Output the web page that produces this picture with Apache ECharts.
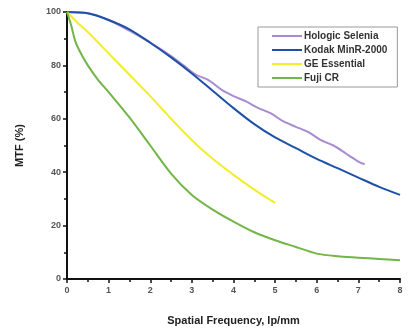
<!DOCTYPE html>
<html><head><meta charset="utf-8">
<script src="https://cdn.jsdelivr.net/npm/echarts@6/dist/echarts.min.js"></script>
<style>html,body{margin:0;padding:0;background:#fff}#c{width:408px;height:333px}</style>
</head><body><div id="c"></div>
<script>
const seriesNames = ['Hologic Selenia', 'Kodak MinR-2000', 'GE Essential', 'Fuji CR'];
const hologicX = [0, 0.5, 1, 1.5, 2, 2.5, 2.8, 3.1, 3.4, 3.7, 4, 4.3, 4.6, 4.9, 5.2, 5.5, 5.8, 6.1, 6.4, 6.7, 7, 7.15];
const hologicY = [100, 99.5, 97, 93, 88.5, 83.5, 80, 76.5, 74.5, 71, 68.5, 66.5, 64, 62, 59, 57, 55, 52, 50, 47, 44, 43];
const kodakX = [0, 0.5, 1, 1.5, 2, 2.5, 3, 3.5, 4, 4.5, 5, 5.5, 6, 6.5, 7, 7.5, 8];
const kodakY = [100, 99.5, 97, 93.5, 88.5, 83, 77, 70.5, 64, 58, 53, 49, 45, 41.5, 38, 34.5, 31.5];
const geX = [0, 0.25, 0.5, 1, 1.5, 2, 2.5, 3, 3.5, 4, 4.5, 5];
const geY = [100, 96, 92.5, 84.5, 76.5, 68.5, 60, 52, 45, 39, 33.5, 28.5];
const fujiX = [0, 0.1, 0.2, 0.3, 0.5, 0.75, 1, 1.5, 2, 2.5, 3, 3.5, 4, 4.5, 5, 5.5, 6, 6.5, 7, 7.5, 8];
const fujiY = [100, 95, 89, 85.5, 80, 74.5, 70, 60.5, 50, 39.5, 31.5, 26, 21.5, 17.5, 14.5, 12, 9.5, 8.5, 8, 7.5, 7];
const colors = ['#a98bd0', '#1f50a8', '#f2ee2c', '#72b548'];

const zip = (xs, ys) => xs.map((x, i) => [x, ys[i]]);
const datasets = [zip(hologicX, hologicY), zip(kodakX, kodakY), zip(geX, geY), zip(fujiX, fujiY)];

const chart = echarts.init(document.getElementById('c'), null, {renderer: 'canvas'});
const axisFont = {fontFamily: 'Liberation Sans, Arial', fontSize: 9, color: '#555', fontWeight: 'bold'};
chart.setOption({
  animation: false,
  backgroundColor: '#fff',
  color: colors,
  grid: {left: 67, right: 8, top: 12, bottom: 54},
  legend: {
    orient: 'vertical', left: 258, top: 27,
    data: seriesNames,
    icon: 'rect', itemWidth: 30, itemHeight: 2, itemGap: 4,
    borderColor: '#999', borderWidth: 1, padding: [4, 10, 4, 14],
    textStyle: {fontFamily: 'Liberation Sans, Arial', fontSize: 10, fontWeight: 'bold', color: '#333', padding: [0, 0, 0, -3]}
  },
  xAxis: {
    type: 'value', min: 0, max: 8, interval: 1,
    name: 'Spatial Frequency, lp/mm', nameLocation: 'middle', nameGap: 36,
    nameTextStyle: {fontFamily: 'Liberation Sans, Arial', fontSize: 11, fontWeight: 'bold', color: '#222'},
    axisLine: {lineStyle: {color: '#111', width: 2}},
    axisTick: {length: 4, lineStyle: {color: '#111', width: 1.5}},
    minorTick: {show: true, splitNumber: 2, length: 3, lineStyle: {color: '#111', width: 1.5}},
    splitLine: {show: false},
    axisLabel: Object.assign({margin: 7}, axisFont)
  },
  yAxis: {
    type: 'value', min: 0, max: 100, interval: 20,
    name: 'MTF (%)', nameLocation: 'middle', nameGap: 42, nameRotate: 90,
    nameTextStyle: {fontFamily: 'Liberation Sans, Arial', fontSize: 11, fontWeight: 'bold', color: '#222'},
    axisLine: {show: true, lineStyle: {color: '#111', width: 2}},
    axisTick: {show: true, length: 4, lineStyle: {color: '#111', width: 1.5}},
    minorTick: {show: true, splitNumber: 2, length: 3, lineStyle: {color: '#111', width: 1.5}},
    splitLine: {show: false},
    axisLabel: Object.assign({margin: 6}, axisFont)
  },
  series: seriesNames.map((n, i) => ({
    name: n, type: 'line', data: datasets[i], showSymbol: false, smooth: 0.3,
    lineStyle: {width: 2, color: colors[i]}, itemStyle: {color: colors[i]}
  }))
});
</script></body></html>
